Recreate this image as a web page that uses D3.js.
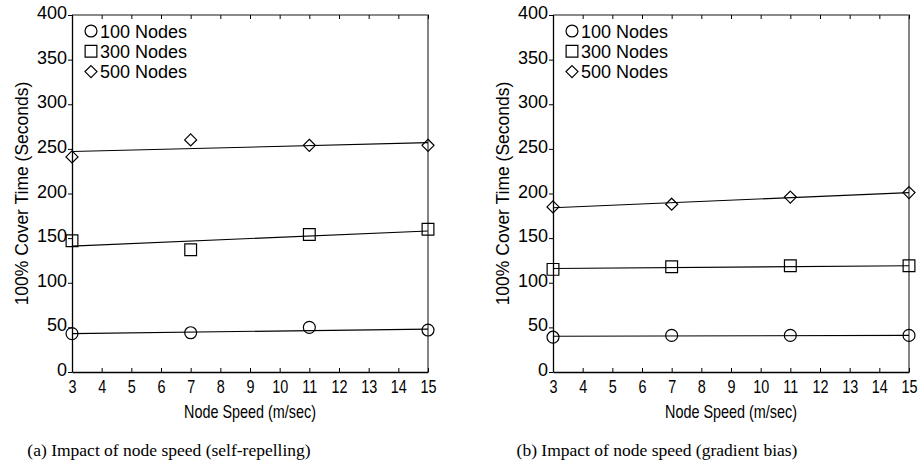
<!DOCTYPE html>
<html>
<head>
<meta charset="utf-8">
<script src="https://cdn.jsdelivr.net/npm/d3@7"></script>
<style>
  body { margin: 0; background: #fff; }
  svg { display: block; }
</style>
</head>
<body>
<script>
// node speeds (m/sec) where the runs were made
var speeds = [3, 7, 11, 15];
var xTicks = [3, 4, 5, 6, 7, 8, 9, 10, 11, 12, 13, 14, 15];
var yTicks = [0, 50, 100, 150, 200, 250, 300, 350, 400];
var seriesNames = ["100 Nodes", "300 Nodes", "500 Nodes"];

// (a) self-repelling, cover time in seconds
var repel100 = [43, 44, 50, 47];
var repel300 = [147, 137, 154, 160];
var repel500 = [241, 260, 254, 254];
// fitted trend lines, value at speed 3 and at speed 15
var repelFit100 = [43, 48];
var repelFit300 = [141, 158];
var repelFit500 = [247, 257];

// (b) gradient bias
var grad100 = [39, 41, 41, 41];
var grad300 = [115, 118, 119, 119];
var grad500 = [185, 188, 196, 201];
var gradFit100 = [40, 41];
var gradFit300 = [116, 119];
var gradFit500 = [184, 201];

var captions = ["(a) Impact of node speed (self-repelling)", "(b) Impact of node speed (gradient bias)"];

var svg = d3.select("body").append("svg").attr("width", 923).attr("height", 465);

var top0 = 15, w = 356, h = 357;
var shapes = [d3.symbolCircle, d3.symbolSquare, d3.symbolDiamond2];
var sizes = [112, 138, 92];
var sansFont = "'Liberation Sans', Arial, sans-serif";

function drawPanel(left, series, fits, caption, capX){
    var g = svg.append("g").attr("transform", "translate(" + left + "," + top0 + ")");

    var x = d3.scaleLinear().domain([3, 15]).range([0, w]);
    var y = d3.scaleLinear().domain([0, 400]).range([h, 0]);

    // top and right edges of the box
    g.append("path")
        .attr("d", "M0,0H" + w + "V" + h)
        .attr("fill", "none")
        .attr("stroke", "#666")
        .attr("stroke-width", 1.6);

    // top ticks (no labels)
    g.append("g")
        .call(d3.axisTop(x).tickValues(xTicks).tickSizeInner(-4).tickSizeOuter(0).tickFormat(""))
        .call(function(a){ a.select(".domain").remove(); });

    // bottom axis, narrow labels
    var xa = g.append("g")
        .attr("transform", "translate(0," + h + ")")
        .call(d3.axisBottom(x).tickValues(xTicks).tickSizeInner(-4).tickSizeOuter(0).tickPadding(8));
    xa.selectAll("text")
        .style("font-family", sansFont)
        .style("font-size", "18px")
        .attr("transform", "scale(0.8,1)")
        .attr("fill", "#000");

    // left axis
    var ya = g.append("g")
        .call(d3.axisLeft(y).tickValues(yTicks).tickSizeInner(4).tickSizeOuter(0).tickPadding(1));
    ya.selectAll("text")
        .style("font-family", sansFont)
        .style("font-size", "18px")
        .attr("dy", "0.2em")
        .attr("fill", "#000");
    g.selectAll(".domain").attr("stroke", "#000").attr("stroke-width", 1.3);
    g.selectAll(".tick line").attr("stroke", "#000");

    // trend lines
    fits.forEach(function(f){
        g.append("line")
            .attr("x1", x(3)).attr("y1", y(f[0]))
            .attr("x2", x(15)).attr("y2", y(f[1]))
            .attr("stroke", "#000")
            .attr("stroke-width", 1.1);
    });

    // markers
    series.forEach(function(vals, i){
        g.selectAll(".m" + i)
            .data(vals)
            .enter()
            .append("path")
            .attr("d", d3.symbol().type(shapes[i]).size(sizes[i]))
            .attr("transform", function(d, j){ return "translate(" + x(speeds[j]) + "," + y(d) + ")"; })
            .attr("fill", "none")
            .attr("stroke", "#000")
            .attr("stroke-width", 1.2);
    });

    // legend
    seriesNames.forEach(function(name, i){
        var ly = 16 + i * 20.3;
        g.append("path")
            .attr("d", d3.symbol().type(shapes[i]).size(sizes[i]))
            .attr("transform", "translate(19," + ly + ")")
            .attr("fill", "none")
            .attr("stroke", "#000")
            .attr("stroke-width", 1.2);
        g.append("text")
            .attr("x", 28)
            .attr("y", ly + 6.5)
            .style("font-family", sansFont)
            .style("font-size", "18px")
            .text(name);
    });

    // axis labels
    g.append("text")
        .attr("transform", "translate(" + (w / 2) + "," + (h + 46) + ") scale(0.8,1)")
        .style("text-anchor", "middle")
        .style("font-family", sansFont)
        .style("font-size", "18px")
        .text("Node Speed (m/sec)");

    g.append("text")
        .attr("transform", "translate(-44," + (h / 2) + ") rotate(-90)")
        .style("text-anchor", "middle")
        .style("font-family", sansFont)
        .style("font-size", "17.5px")
        .text("100% Cover Time (Seconds)");

    svg.append("text")
        .attr("x", capX)
        .attr("y", 456)
        .style("text-anchor", "middle")
        .style("font-family", "'Liberation Serif', 'DejaVu Serif', serif")
        .style("font-size", "17.5px")
        .text(caption);
}

drawPanel(72, [repel100, repel300, repel500], [repelFit100, repelFit300, repelFit500], captions[0], 169);
drawPanel(553, [grad100, grad300, grad500], [gradFit100, gradFit300, gradFit500], captions[1], 657);
</script>
</body>
</html>
